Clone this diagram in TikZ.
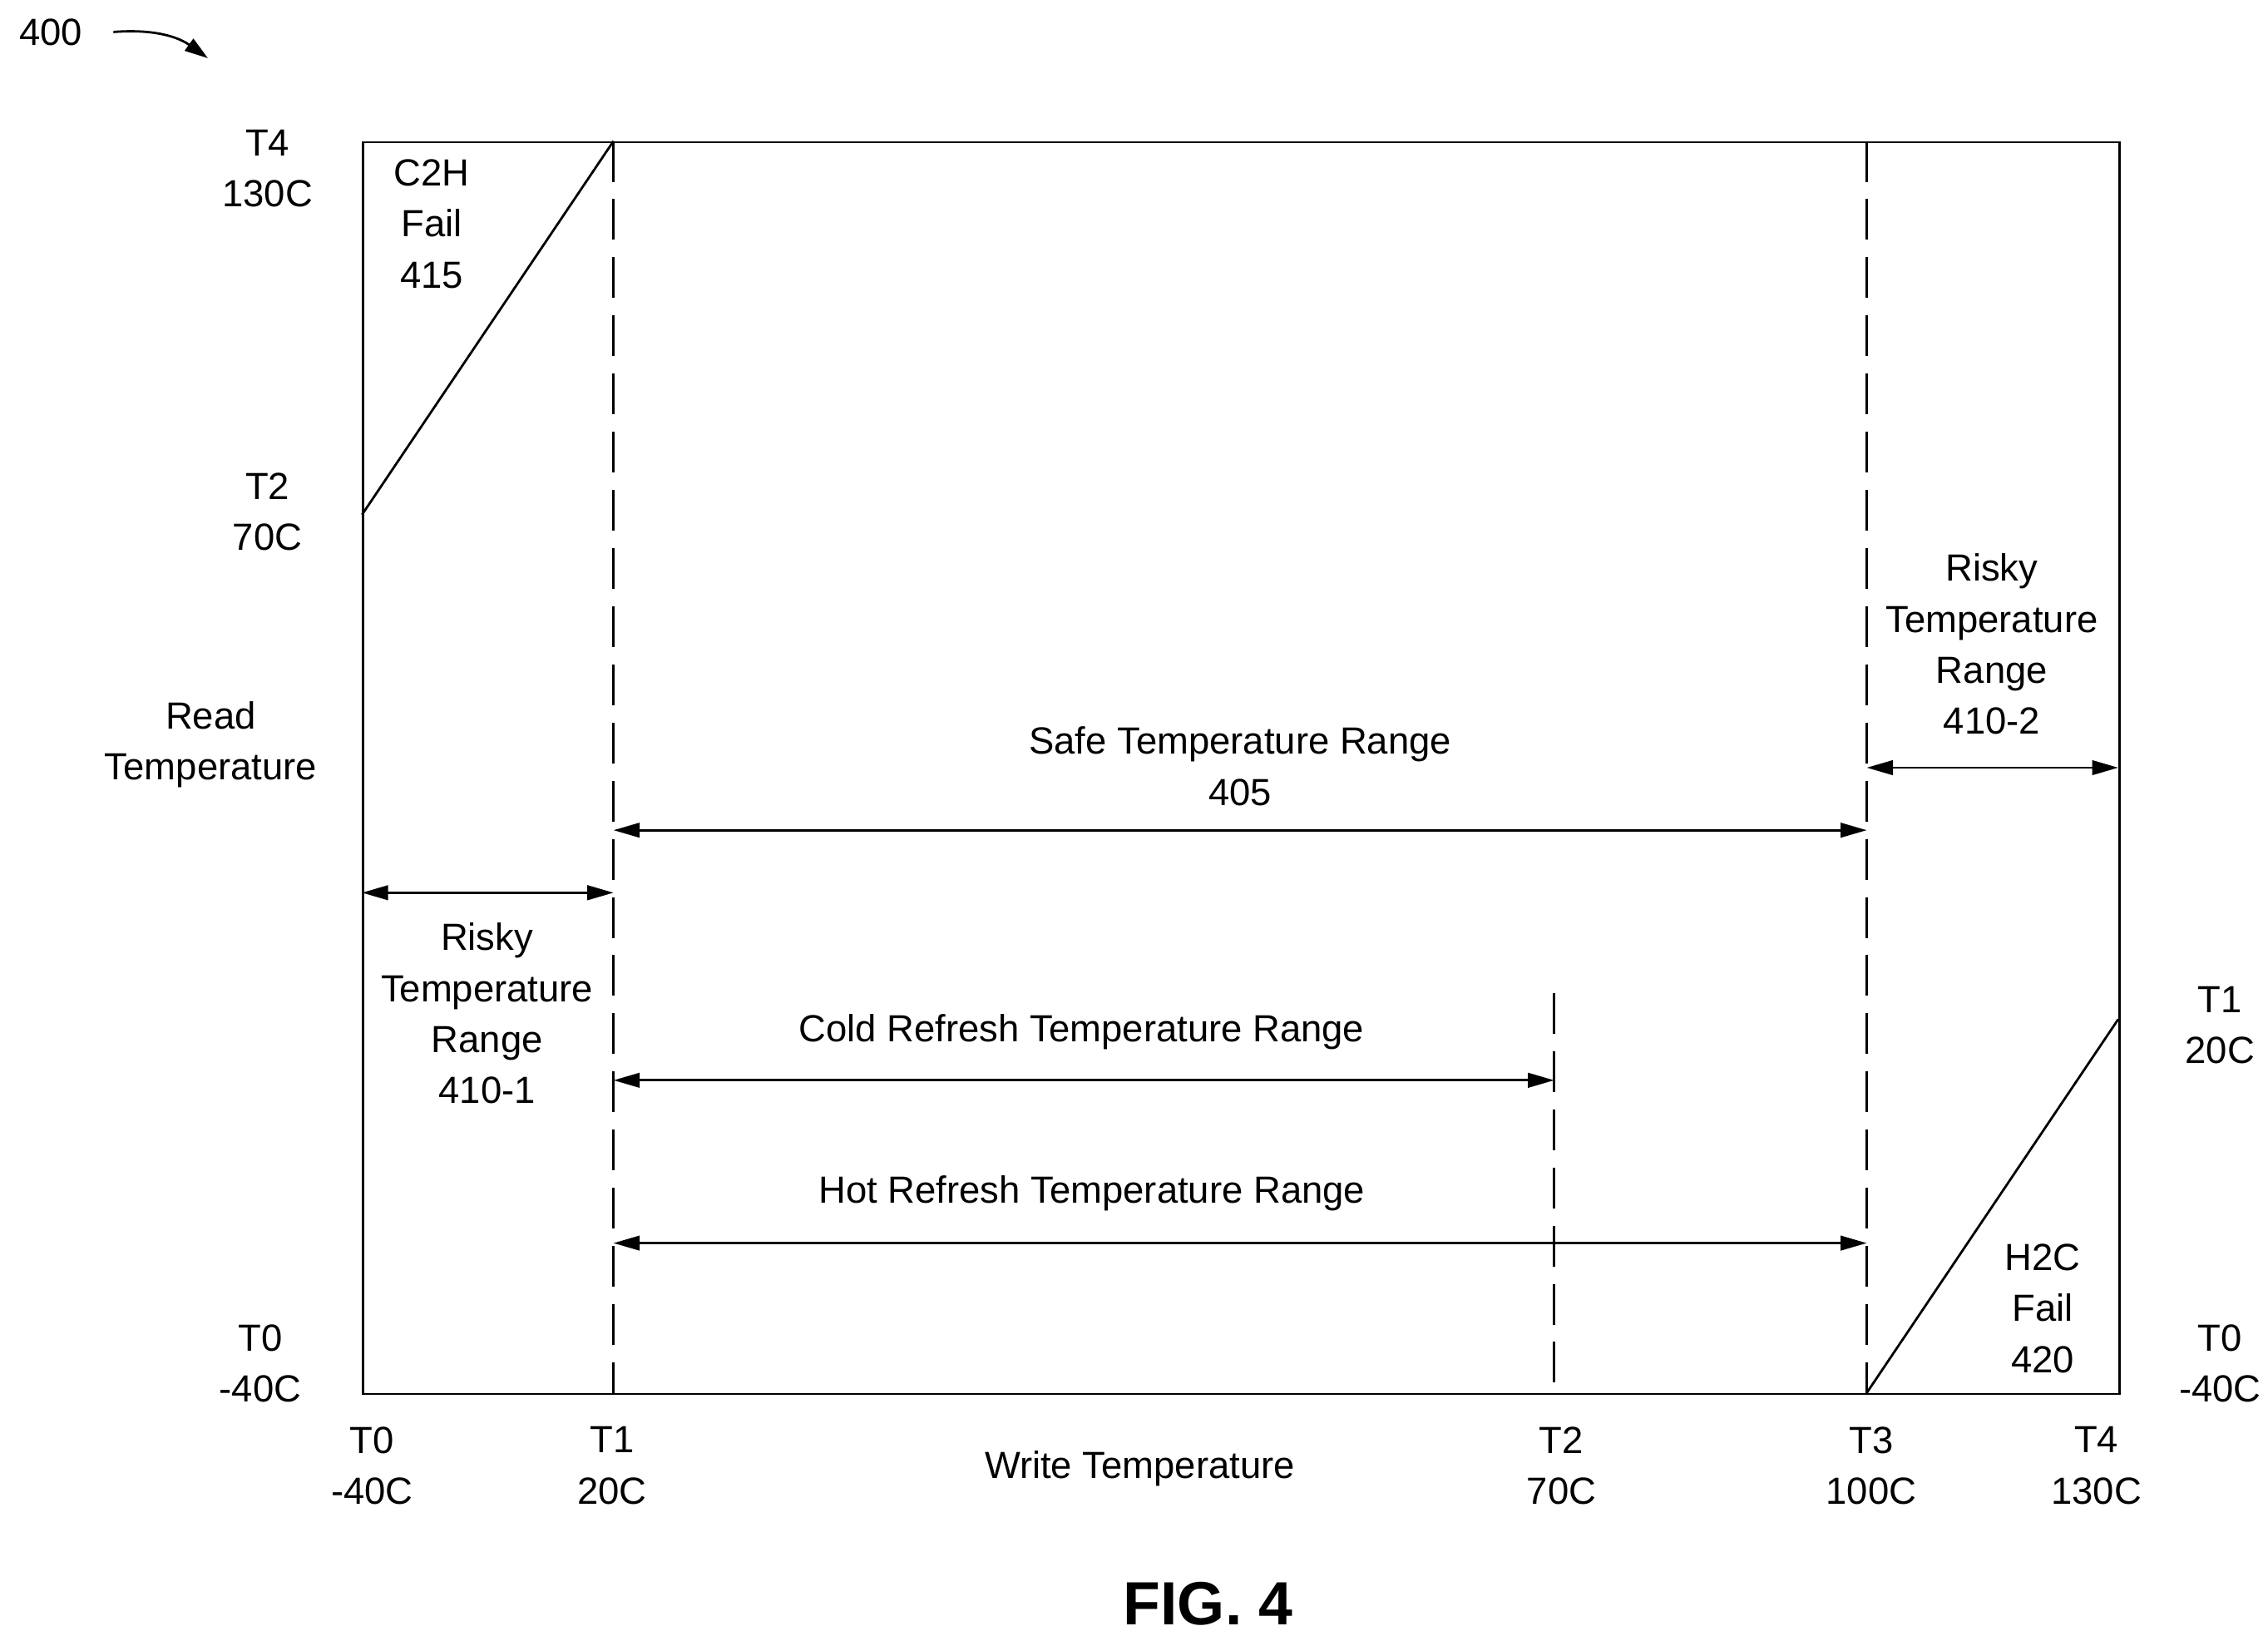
\documentclass[tikz,border=0pt]{standalone}
\usepackage{fontspec}
\setmainfont{Liberation Sans}
\usetikzlibrary{arrows.meta}
\begin{document}
\begin{tikzpicture}[x=0.5pt,y=-0.5pt,
  lbl/.style={font=\fontsize{13}{17.5}\selectfont,align=center,inner sep=0pt},
  dim/.style={thick,{Triangle[length=9pt,width=5pt]}-{Triangle[length=9pt,width=5pt]}},
  dsh/.style={thick,dash pattern=on 14pt off 6pt},
  edge/.style={thick}]
\useasboundingbox (0,0) rectangle (1560,1125);
\node[draw,thick,minimum width=604pt,minimum height=430.5pt,inner sep=0pt,anchor=north west] (box) at (249,97) {};
\coordinate (a1) at (422,97); \coordinate (a2) at (422,958);
\coordinate (b1) at (1284,97); \coordinate (b2) at (1284,958);
\coordinate (c1) at (1069,683); \coordinate (c2) at (1069,958);
\draw[dsh] (a1)--(a2); \draw[dsh] (b1)--(b2); \draw[dsh] (c1)--(c2);
\coordinate (p1) at (249,354); \coordinate (q1) at (1457,701);
\draw[edge] (p1)--(a1); \draw[edge] (b2)--(q1);
\coordinate (r1) at (249,614); \coordinate (r2) at (422,614);
\draw[dim] (r1)--(r2);
\coordinate (s1) at (422,571); \coordinate (s2) at (1284,571);
\draw[dim] (s1)--(s2);
\coordinate (t1) at (1284,528); \coordinate (t2) at (1457,528);
\draw[dim] (t1)--(t2);
\coordinate (u1) at (422,743); \coordinate (u2) at (1069,743);
\draw[dim] (u1)--(u2);
\coordinate (v1) at (422,855); \coordinate (v2) at (1284,855);
\draw[dim] (v1)--(v2);
\node[lbl] (safe) at (853,527) {Safe Temperature Range\\405};
\node[lbl] (risk2) at (1370,443) {Risky\\Temperature\\Range\\410-2};
\node[lbl] (risk1) at (335,697) {Risky\\Temperature\\Range\\410-1};
\node[lbl] (cold) at (744,710) {Cold Refresh Temperature Range};
\node[lbl] (hot) at (751,821) {Hot Refresh Temperature Range};
\node[lbl] (c2h) at (297,154) {C2H\\Fail\\415};
\node[lbl] (h2c) at (1405,900) {H2C\\Fail\\420};
\node[lbl] (rt) at (145,512) {Read\\Temperature};
\node[lbl] (y4) at (184,116) {T4\\130C};
\node[lbl] (y2) at (184,352) {T2\\70C};
\node[lbl] (y0) at (179,938) {T0\\-40C};
\node[lbl] (z1) at (1527,705) {T1\\20C};
\node[lbl] (z0) at (1527,938) {T0\\-40C};
\node[lbl] (x0) at (256,1008) {T0\\-40C};
\node[lbl] (x1) at (421,1008) {T1\\20C};
\node[lbl] (wt) at (784,1010) {Write Temperature};
\node[lbl] (x2) at (1074,1008) {T2\\70C};
\node[lbl] (x3) at (1287,1008) {T3\\100C};
\node[lbl] (x4) at (1442,1008) {T4\\130C};
\node[lbl,font=\fontsize{21}{25}\selectfont\bfseries] (fig) at (831,1103) {FIG. 4};
\node[lbl] (n400) at (35,22) {400};
\coordinate (e1) at (78,22); \coordinate (e2) at (143,40);
\draw[thick,-{Triangle[length=8pt,width=5pt]}] (e1) to[bend left=20] (e2);
\end{tikzpicture}
\end{document}
